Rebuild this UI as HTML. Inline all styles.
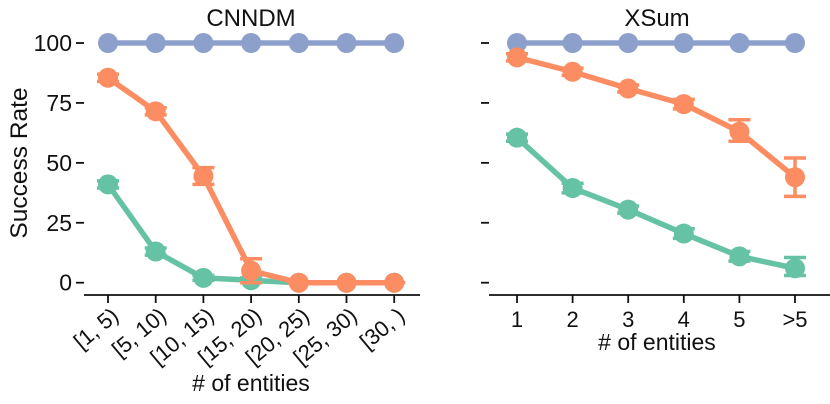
<!DOCTYPE html>
<html><head><meta charset="utf-8"><style>
body{margin:0;background:#fff;}
svg{display:block;font-family:"Liberation Sans",Arial,sans-serif;}
</style></head><body>
<svg id="chart" width="830" height="404" viewBox="0 0 830 404" xmlns="http://www.w3.org/2000/svg"></svg>
<script>
const cnnCategories = ["[1, 5)","[5, 10)","[10, 15)","[15, 20)","[20, 25)","[25, 30)","[30, )"];
const cnnBlue = [100,100,100,100,100,100,100];
const cnnOrange = [85.5,71.5,44.5,5,0,0,0];
const cnnOrangeLo = [84,70,41,0,0,0,0];
const cnnOrangeHi = [87,73,48,10,0,0,0];
const cnnGreen = [41,13,2,1,0,0,0];
const cnnGreenLo = [39.5,11.5,1,0,0,0,0];
const cnnGreenHi = [42.5,14.5,3,2,0,0,0];
const xsumCategories = ["1","2","3","4","5",">5"];
const xsumBlue = [100,100,100,100,100,100];
const xsumOrange = [94,88,81,74.5,63,44];
const xsumOrangeLo = [92.5,86.5,79.5,72.5,59,36];
const xsumOrangeHi = [95.5,89.5,82.5,76.5,68,52];
const xsumGreen = [60.5,39.5,30.5,20.5,11,6];
const xsumGreenLo = [59,37.5,29,18.5,9,3];
const xsumGreenHi = [62,41.5,32,22.5,13,10.5];
const yTicks = [0,25,50,75,100];

const NS="http://www.w3.org/2000/svg";
const svg=document.getElementById('chart');
function el(tag,attrs,parent){const e=document.createElementNS(NS,tag);for(const k in attrs)e.setAttribute(k,attrs[k]);(parent||svg).appendChild(e);return e;}
const yScale=v=>282.7-v*2.397;
const COL={blue:"#8da0cb",orange:"#fc8d62",green:"#66c2a5"};
const TXT="#111";

function panel(opts){
  const g=el('g',{});
  
  
  const xs=i=>opts.x0+i*opts.step;
  const title=el('text',{x:opts.titleX,y:26,'font-size':24,'text-anchor':'middle',fill:TXT},g);
  title.textContent=opts.title;
  
  
  yTicks.forEach(t=>{
    const tk=el('line',{x1:opts.tickX,x2:opts.tickX+8,y1:yScale(t),y2:yScale(t),stroke:TXT,'stroke-width':1.8},g);
    
    
    if(opts.yLabels){
      const tl=el('text',{x:opts.tickX-4,y:yScale(t)+8,'font-size':23,'text-anchor':'end',fill:TXT},g);
      tl.textContent=t;
      
      
    }
  });
  const ax=el('line',{x1:opts.axX1,x2:opts.axX2,y1:295,y2:295,stroke:TXT,'stroke-width':1.8},g);
  
  
  opts.cats.forEach((c,i)=>{
    const tk=el('line',{x1:xs(i),x2:xs(i),y1:295,y2:303,stroke:TXT,'stroke-width':1.8},g);
    
    
    let tl;
    if(opts.rotate){
      tl=el('text',{x:xs(i)+12,y:318,'font-size':22,'text-anchor':'end',fill:TXT,transform:`rotate(-40 ${xs(i)+12} 318)`},g);
    }else{
      tl=el('text',{x:xs(i),y:327,'font-size':22,'text-anchor':'middle',fill:TXT},g);
    }
    tl.textContent=c;
    
    
  });
  const xt=el('text',{x:opts.xTitleX,y:opts.xTitleY,'font-size':23,'text-anchor':'middle',fill:TXT},g);
  xt.textContent="# of entities";
  
  
  opts.series.forEach(s=>{
    const sg=el('g',{},g);
    
    
    const pts=s.vals.map((v,i)=>xs(i)+','+yScale(v)).join(' ');
    const pl=el('polyline',{points:pts,fill:'none',stroke:s.color,'stroke-width':5.5,'stroke-linejoin':'round'},sg);
    
    
    s.vals.forEach((v,i)=>{
      if(s.lo){
        const lo=yScale(s.lo[i]),hi=yScale(s.hi[i]),x=xs(i);
        const eb=el('path',{d:`M${x},${lo}V${hi}M${x-11},${lo}H${x+11}M${x-11},${hi}H${x+11}`,stroke:s.color,'stroke-width':3.5,fill:'none'},sg);
        
        
      }
      const c=el('circle',{cx:xs(i),cy:yScale(v),r:10,fill:s.color},sg);
      
      
    });
  });
}

panel({name:'cnndm-panel',title:'CNNDM',titleX:251,x0:108,step:47.7,cats:cnnCategories,tickX:76,yLabels:true,axX1:84,axX2:420,rotate:true,xTitleX:251,xTitleY:391,
  series:[
    {name:'series-blue',color:COL.blue,vals:cnnBlue},
    {name:'series-green',color:COL.green,vals:cnnGreen,lo:cnnGreenLo,hi:cnnGreenHi},
    {name:'series-orange',color:COL.orange,vals:cnnOrange,lo:cnnOrangeLo,hi:cnnOrangeHi}
  ]});
panel({name:'xsum-panel',title:'XSum',titleX:657,x0:517,step:55.6,cats:xsumCategories,tickX:481,yLabels:false,axX1:489,axX2:830,rotate:false,xTitleX:657,xTitleY:350,
  series:[
    {name:'series-blue',color:COL.blue,vals:xsumBlue},
    {name:'series-green',color:COL.green,vals:xsumGreen,lo:xsumGreenLo,hi:xsumGreenHi},
    {name:'series-orange',color:COL.orange,vals:xsumOrange,lo:xsumOrangeLo,hi:xsumOrangeHi}
  ]});

const yl=el('text',{x:0,y:0,'font-size':24.5,'text-anchor':'middle',fill:TXT,transform:'translate(27,163) rotate(-90)'});
yl.textContent="Success Rate";


</script>
</body></html>
